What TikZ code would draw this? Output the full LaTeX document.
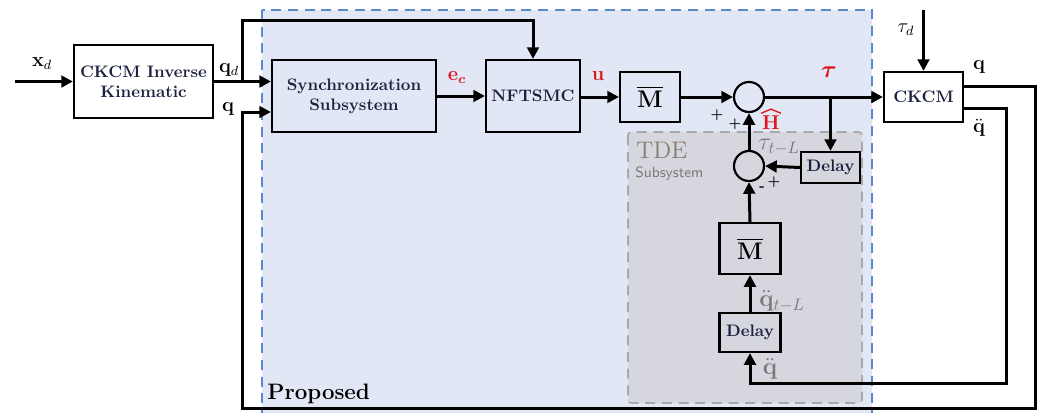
\documentclass[tikz,border=0pt]{standalone}
\usepackage{amsmath}
\usetikzlibrary{arrows.meta}
\definecolor{propfill}{HTML}{E1E7F4}
\definecolor{propline}{HTML}{5B88CF}
\definecolor{tdefill}{HTML}{D6D6DE}
\definecolor{tdeline}{HTML}{A9A9A9}
\definecolor{txtnavy}{HTML}{1C2140}
\definecolor{lblred}{HTML}{E0141B}
\definecolor{lblgray}{HTML}{7A7A7A}
\newcommand{\Mbar}{$\overline{\mathbf{M}}$}
\tikzset{
  blk/.style={draw=black, line width=1.3pt, align=center, font=\bfseries\color{txtnavy}, inner sep=1pt},
  sumc/.style={draw=black, line width=1.3pt, circle, minimum size=18pt, inner sep=0pt},
  sig/.style={line width=1.8pt, -{Triangle[length=7pt,width=7pt]}},
  lbl/.style={inner sep=0pt}
}
\begin{document}
\begin{tikzpicture}[x=0.6pt,y=-0.6pt]
\useasboundingbox (0,0) rectangle (1043,412);
% regions
\draw[propline, line width=0.9pt, dash pattern=on 6pt off 4pt, fill=propfill] (262,10) rectangle (872,418);
\draw[tdeline, line width=1pt, dash pattern=on 6pt off 4pt, fill=tdefill, rounded corners=2pt] (628,132) rectangle (862,403);
\node[lbl, anchor=west, font=\bfseries\fontsize{13.4}{16}\selectfont] (prop) at (267,394) {Proposed};
\node[lbl, anchor=west, text=lblgray!80!brown, font=\Large] (tde) at (636,150) {TDE};
\node[lbl, anchor=west, text=lblgray, font=\sffamily\small] (tdes) at (635,174) {Subsystem};
% blocks
\node[blk, fill=white, minimum width=83.4pt, minimum height=43.8pt] (ik) at (143.5,81.5) {CKCM Inverse\\Kinematic};
\node[blk, fill=propfill, minimum width=98.4pt, minimum height=43.2pt] (sync) at (354,96) {Synchronization\\Subsystem};
\node[blk, fill=propfill, minimum width=56.4pt, minimum height=43.2pt] (nft) at (533,96) {NFTSMC};
\node[blk, fill=propfill, minimum width=36pt, minimum height=30pt, font=\Large] (m1) at (650,97) {\Mbar};
\node[sumc, fill=propfill] (s1) at (749,97) {};
\node[blk, fill=tdefill, minimum width=35.4pt, minimum height=18.6pt] (d1) at (830.5,167.5) {Delay};
\node[sumc, fill=tdefill] (s2) at (749,166) {};
\node[blk, fill=tdefill, minimum width=36.6pt, minimum height=30.6pt, font=\Large] (m2) at (750,248.5) {\Mbar};
\node[blk, fill=tdefill, minimum width=36.6pt, minimum height=23.4pt] (d2) at (750,332.5) {Delay};
\node[blk, fill=white, minimum width=47.4pt, minimum height=30pt] (ck) at (923.5,97) {CKCM};
% coordinates
\coordinate (xin) at (15,81.5);
\coordinate (br) at (242,81.5);
\coordinate (tp1) at (242,20);
\coordinate (tp2) at (533,20);
\coordinate (qo) at (963,86);
\coordinate (qr1) at (1035,86);
\coordinate (qr2) at (1035,408);
\coordinate (qr3) at (242,408);
\coordinate (qr4) at (242,112);
\coordinate (ddo) at (963,108);
\coordinate (dr1) at (1006,108);
\coordinate (dr2) at (1006,383);
\coordinate (dr3) at (750,383);
\coordinate (tb) at (830.5,97);
\coordinate (tdin) at (923.5,10);
% connectors
\draw[sig] (xin) -- (ik.west |- xin);
\draw[sig] (ik.east |- br) -- (sync.west |- br);
\draw[sig] (br) -- (tp1) -- (tp2) -- (nft.north);
\draw[sig] (qo) -- (qr1) -- (qr2) -- (qr3) -- (qr4) -- (sync.west |- qr4);
\draw[sig] (sync.east) -- (nft.west);
\draw[sig] (nft.east |- m1.west) -- (m1.west);
\draw[sig] (m1.east) -- (s1.west);
\draw[sig] (s1.east) -- (ck.west);
\draw[sig] (tb) -- (d1.north);
\draw[sig] (d1.west) -- (s2.east);
\draw[sig] (s2.north) -- (s1.south);
\draw[sig] (m2.north) -- (s2.south);
\draw[sig] (d2.north) -- (m2.south);
\draw[sig] (ddo) -- (dr1) -- (dr2) -- (dr3) -- (d2.south);
\draw[sig] (tdin) -- (ck.north);
% labels
\node[lbl, font=\large] (lxd) at (42,64) {$\mathbf{x}_d$};
\node[lbl, font=\large] (lqd) at (229,70) {$\mathbf{q}_d$};
\node[lbl, font=\large] (lq1) at (228,109) {$\mathbf{q}$};
\node[lbl, font=\large, text=lblred] (lec) at (457,78) {$\mathbf{e}_{\boldsymbol{c}}$};
\node[lbl, font=\large, text=lblred] (lu) at (598,76) {$\mathbf{u}$};
\node[lbl, font=\Large, text=lblred] (ltau) at (829,72) {$\boldsymbol{\tau}$};
\node[lbl, font=\large, text=lblred] (lh) at (771,123) {$\mathbf{H}$};
\draw[lblred, line width=0.8pt] ([xshift=-0.5pt,yshift=1.5pt]lh.north west) -- ([yshift=4pt]lh.north) -- ([xshift=0.5pt,yshift=1.5pt]lh.north east);
\node[lbl, font=\footnotesize\bfseries] (p1) at (717,115) {+};
\node[lbl, font=\footnotesize\bfseries] (p2) at (735,124) {+};
\node[lbl, font=\footnotesize\bfseries] (p3) at (762,189) {-};
\node[lbl, font=\footnotesize\bfseries] (p4) at (774,182) {+};
\node[lbl, text=lblgray, font=\Large] (ltl) at (779,147) {$\tau_{t-L}$};
\node[lbl, text=lblgray, font=\Large] (lqtl) at (782,301) {$\ddot{\mathbf{q}}_{t-L}$};
\node[lbl, text=lblgray, font=\Large] (lqdd1) at (770,369) {$\ddot{\mathbf{q}}$};
\node[lbl, font=\large] (ltd) at (906,30) {$\tau_d$};
\node[lbl, font=\large] (lq2) at (979,67) {$\mathbf{q}$};
\node[lbl, font=\large] (lqdd2) at (979,128) {$\ddot{\mathbf{q}}$};
\end{tikzpicture}
\end{document}
